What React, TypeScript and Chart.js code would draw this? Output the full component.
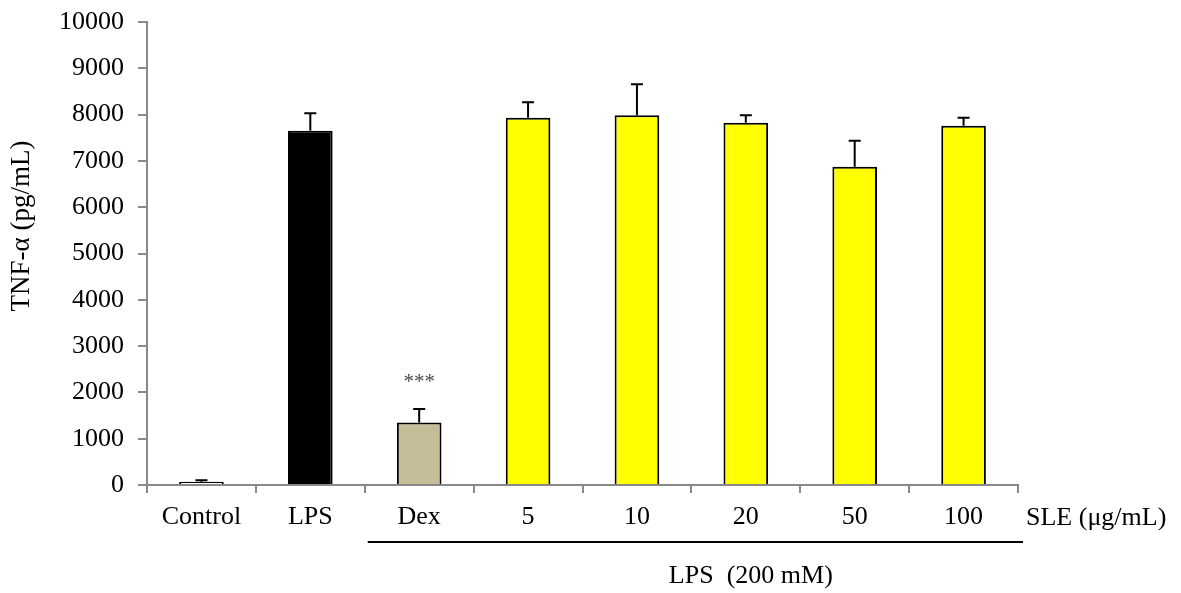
import React, { useEffect, useRef } from "react";
import { Chart, registerables } from "chart.js";

Chart.register(...registerables);

const categories = ["Control", "LPS", "Dex", "5", "10", "20", "50", "100"];
const values = [70, 7650, 1350, 7930, 7985, 7825, 6875, 7760];
const errors = [30, 380, 290, 335, 670, 160, 560, 170];
const barColors = ["#ffffff", "#000000", "#c4bd97", "#ffff00", "#ffff00", "#ffff00", "#ffff00", "#ffff00"];
const yTicks = [0, 1000, 2000, 3000, 4000, 5000, 6000, 7000, 8000, 9000, 10000];
const yTitle = "TNF-α (pg/mL)";
const unitLabel = "SLE (μg/mL)";
const groupLabel = "LPS  (200 mM)";
const sigMarks = ["", "", "***", "", "", "", "", ""];

const FONT = "'Liberation Serif', 'Times New Roman', serif";
const AXIS = "#898989";
const FS = 26;

export default function App() {
  const ref = useRef<HTMLCanvasElement | null>(null);
  useEffect(() => {
    if (!ref.current) return;
    const overlay = {
      id: "overlay",
      afterDatasetsDraw(chart: any) {
        const ctx = chart.ctx;
        const meta = chart.getDatasetMeta(0);
        const ys = chart.scales.y;
        ctx.save();
        ctx.strokeStyle = "#000";
        ctx.lineWidth = 2;
        meta.data.forEach((bar: any, i: number) => {
          const top = ys.getPixelForValue(values[i]);
          const et = ys.getPixelForValue(values[i] + errors[i]);
          ctx.beginPath();
          ctx.moveTo(bar.x, top);
          ctx.lineTo(bar.x, et);
          ctx.moveTo(bar.x - 6, et);
          ctx.lineTo(bar.x + 6, et);
          ctx.stroke();
          if (sigMarks[i]) {
            ctx.fillStyle = "#4a4a4a";
            ctx.font = `21px ${FONT}`;
            ctx.textAlign = "center";
            ctx.textBaseline = "middle";
            ctx.fillText(sigMarks[i], bar.x, et - 27);
          }
        });
        ctx.restore();
      },
      afterDraw(chart: any) {
        const ctx = chart.ctx;
        const ca = chart.chartArea;
        const xs = chart.scales.x;
        ctx.save();
        ctx.fillStyle = "#000";
        ctx.font = `${FS}px ${FONT}`;
        ctx.textBaseline = "middle";
        ctx.textAlign = "left";
        ctx.fillText(unitLabel, ca.right + 8, 518);
        const w = xs.getPixelForValue(1) - xs.getPixelForValue(0);
        const x1 = xs.getPixelForValue(2) - w / 2 + 3;
        const x2 = ca.right + 5;
        ctx.strokeStyle = "#000";
        ctx.lineWidth = 2;
        ctx.beginPath();
        ctx.moveTo(x1, 542);
        ctx.lineTo(x2, 542);
        ctx.stroke();
        ctx.textAlign = "center";
        ctx.fillText(groupLabel, xs.getPixelForValue(5) + 5, 576);
        ctx.font = `27px ${FONT}`;
        ctx.translate(22, 226);
        ctx.rotate(-Math.PI / 2);
        ctx.fillText(yTitle, 0, 0);
        ctx.restore();
      },
    };
    const chart = new Chart(ref.current, {
      type: "bar",
      data: {
        labels: categories,
        datasets: [
          {
            data: values,
            backgroundColor: barColors,
            borderColor: "#000",
            borderWidth: 2,
            categoryPercentage: 1,
            barPercentage: 0.41,
          },
        ],
      },
      options: {
        animation: false,
        responsive: false,
        maintainAspectRatio: false,
        layout: { padding: { left: 0, right: 163, top: 22, bottom: 0 } },
        plugins: { legend: { display: false }, tooltip: { enabled: false } },
        scales: {
          x: {
            afterFit(scale: any) {
              scale.height = 108;
              scale.paddingLeft = 0;
              scale.paddingRight = 0;
            },
            grid: {
              offset: true,
              drawOnChartArea: false,
              drawTicks: true,
              tickLength: 8,
              color: AXIS,
              lineWidth: 2,
            },
            border: { color: AXIS, width: 2 },
            ticks: { color: "#000", font: { family: FONT, size: FS }, padding: 9, maxRotation: 0, autoSkip: false },
          },
          y: {
            min: 0,
            max: 10000,
            afterFit(scale: any) {
              scale.width = 147;
              scale.paddingTop = 0;
              scale.paddingBottom = 0;
            },
            afterBuildTicks(scale: any) {
              scale.ticks = yTicks.map((v) => ({ value: v }));
            },
            grid: {
              drawOnChartArea: false,
              drawTicks: true,
              tickLength: 9,
              color: AXIS,
              lineWidth: 2,
            },
            border: { color: AXIS, width: 2 },
            ticks: {
              color: "#000",
              font: { family: FONT, size: FS },
              padding: 14,
              callback: (v: any) => String(v),
            },
          },
        },
      },
      plugins: [overlay],
    });
    return () => chart.destroy();
  }, []);
  return (
    <div style={{ position: "absolute", left: 0, top: 0, width: 1181, height: 593, background: "#fff" }}>
      <canvas ref={ref} width={1181} height={593} style={{ width: 1181, height: 593 }} />
    </div>
  );
}
